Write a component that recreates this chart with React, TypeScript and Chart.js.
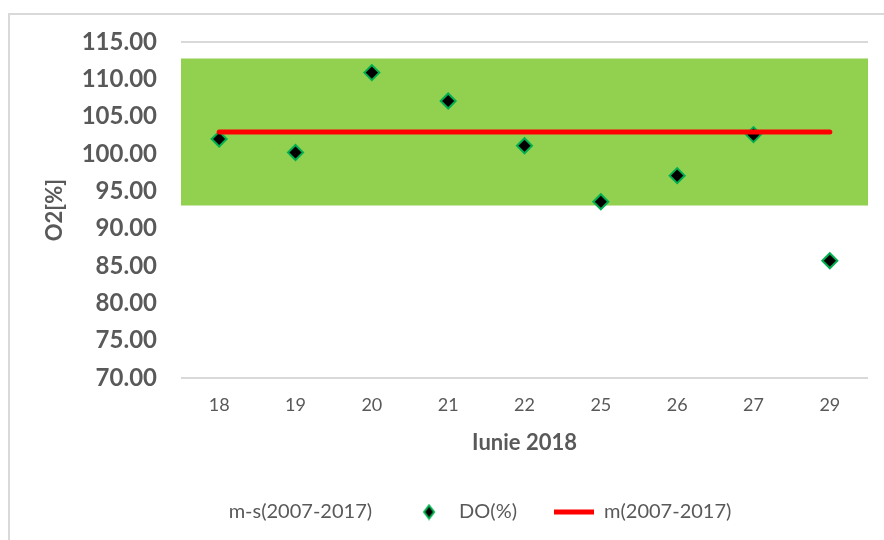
import React, { useEffect, useRef } from "react";
import { Chart, registerables } from "chart.js";

Chart.register(...registerables);

// ---- data ----
const days = ["18", "19", "20", "21", "22", "25", "26", "27", "29"];
const doValues = [102.0, 100.2, 110.9, 107.1, 101.1, 93.6, 97.1, 102.6, 85.7];
const meanValue = 102.95; // m(2007-2017)
const meanMinusSd = 93.1; // m-s(2007-2017)
const twoSd = 19.7; // band height (m+s) - (m-s)
const bandDomain = [0, 1]; // full width of the hidden band axis
const yMin = 70;
const yMax = 115;
const yStep = 5;

const labelMs = "m-s(2007-2017)";
const labelDo = "DO(%)";
const labelM = "m(2007-2017)";
const xTitle = "Iunie 2018";
const yTitle = "O2[%]";

const GREY = "#595959";
const GRID = "#d9d9d9";

function makeDiamond(w: number, h: number) {
  const c = document.createElement("canvas");
  c.width = w + 4;
  c.height = h + 4;
  const g = c.getContext("2d")!;
  const cx = c.width / 2;
  const cy = c.height / 2;
  g.beginPath();
  g.moveTo(cx, cy - h / 2);
  g.lineTo(cx + w / 2, cy);
  g.lineTo(cx, cy + h / 2);
  g.lineTo(cx - w / 2, cy);
  g.closePath();
  g.fillStyle = "#000";
  g.fill();
  g.lineWidth = 2;
  g.strokeStyle = "#00B050";
  g.stroke();
  return c;
}

export default function App() {
  const ref = useRef<HTMLCanvasElement | null>(null);

  useEffect(() => {
    if (!ref.current) return;
    Chart.defaults.font.family = "Lato";
    const bandUpper = meanMinusSd + twoSd;
    const diamond = makeDiamond(10, 13);
    const chart = new Chart(ref.current, {
      type: "line",
      data: {
        labels: days,
        datasets: [
          {
            label: labelMs,
            xAxisID: "xBand",
            data: bandDomain.map((x) => ({ x, y: meanMinusSd })),
            borderWidth: 0,
            borderColor: "transparent",
            backgroundColor: "transparent",
            pointRadius: 0,
            pointStyle: "rect",
            fill: false,
            order: 4,
          },
          {
            label: "band",
            xAxisID: "xBand",
            data: bandDomain.map((x) => ({ x, y: bandUpper })),
            borderWidth: 0,
            borderColor: "transparent",
            backgroundColor: "#92D050",
            pointRadius: 0,
            fill: "-1",
            order: 5,
          },
          {
            label: labelDo,
            data: doValues,
            showLine: false,
            pointStyle: "rectRot",
            pointRadius: 7.5,
            pointBorderWidth: 2,
            pointBackgroundColor: "#000000",
            pointBorderColor: "#00B050",
            backgroundColor: "#000000",
            borderColor: "#00B050",
            borderWidth: 2,
            order: 2,
          },
          {
            label: labelM,
            data: days.map(() => meanValue),
            borderColor: "#FF0000",
            backgroundColor: "#FF0000",
            borderWidth: 5,
            borderCapStyle: "round",
            pointRadius: 0,
            pointStyle: "line",
            fill: false,
            order: 1,
          },
        ],
      },
      options: {
        animation: false,
        responsive: false,
        maintainAspectRatio: false,
        layout: { padding: { left: 42, right: 16, top: 42, bottom: 8 } },
        plugins: {
          tooltip: { enabled: false },
          legend: {
            position: "bottom",
            labels: {
              usePointStyle: true,
              pointStyleWidth: 40,
              boxHeight: 8,
              padding: 37,
              color: GREY,
              font: { size: 20 },
              filter: (item) => item.text !== "band",
              sort: (a, b) => (a.datasetIndex ?? 0) - (b.datasetIndex ?? 0),
              generateLabels: (ch) =>
                Chart.defaults.plugins.legend.labels
                  .generateLabels(ch)
                  .map((it) => (it.text === labelDo ? { ...it, pointStyle: diamond } : it)),
            },
          },
        },
        scales: {
          x: {
            type: "category",
            offset: true,
            grid: { display: false, drawTicks: false },
            border: { display: false },
            ticks: { color: GREY, font: { size: 18 }, padding: 16 },
            title: {
              display: true,
              text: xTitle,
              color: GREY,
              font: { size: 22, weight: "bold" },
              padding: { top: 14, bottom: 9 },
            },
            afterFit: (scale) => {
              scale.height = 87;
            },
          },
          xBand: {
            type: "linear",
            display: false,
            min: bandDomain[0],
            max: bandDomain[1],
          },
          y: {
            min: yMin,
            max: yMax,
            grid: {
              drawTicks: false,
              lineWidth: 2,
              color: (ctx) =>
                ctx.tick && (ctx.tick.value === yMax || ctx.tick.value === yMin)
                  ? GRID
                  : "transparent",
            },
            border: { display: false },
            ticks: {
              stepSize: yStep,
              color: GREY,
              padding: 24,
              font: { size: 24, weight: "bold" },
              callback: (v) => Number(v).toFixed(2),
            },
            title: {
              display: true,
              text: yTitle,
              color: GREY,
              font: { size: 22, weight: "bold" },
              padding: { top: 0, bottom: 0 },
            },
            afterFit: (scale) => {
              scale.width = 139;
            },
          },
        },
      },
    });
    return () => chart.destroy();
  }, []);

  return (
    <div style={{ position: "fixed", inset: 0, overflow: "hidden", background: "#fff" }}>
      <div
        style={{
          position: "absolute",
          left: 8,
          top: 13,
          width: 900,
          height: 600,
          border: "2px solid #d9d9d9",
          boxSizing: "border-box",
        }}
      />
      <canvas
        ref={ref}
        width={884}
        height={540}
        style={{ position: "absolute", left: 0, top: 0, width: 884, height: 540 }}
      />
    </div>
  );
}
